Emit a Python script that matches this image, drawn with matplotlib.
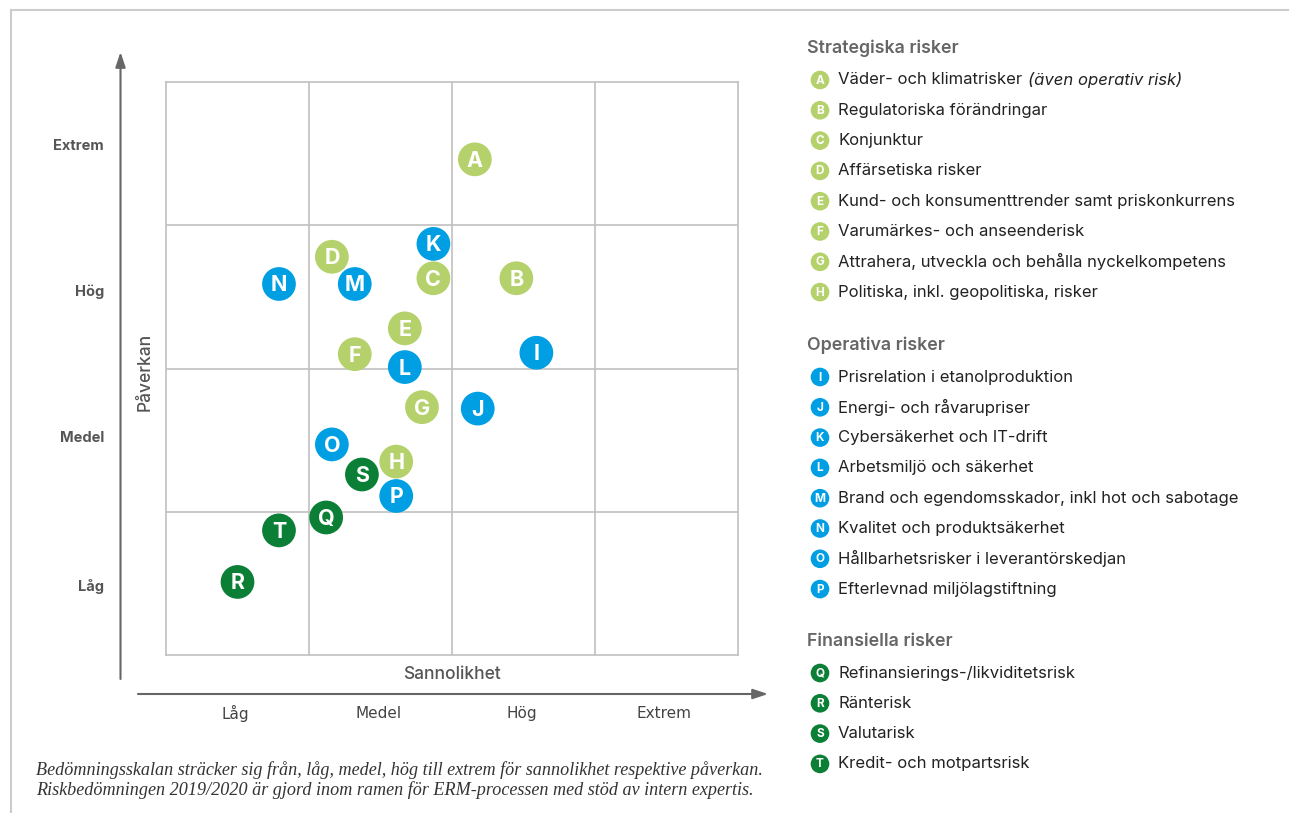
import matplotlib
matplotlib.use("Agg")
import matplotlib.pyplot as plt

# risk letters, position on the 0-4 grid (sannolikhet, påverkan)
letters = ["A", "B", "C", "D", "E", "F", "G", "H",
           "I", "J", "K", "L", "M", "N", "O", "P",
           "Q", "R", "S", "T"]
sannolikhet = [2.16, 2.45, 1.87, 1.16, 1.67, 1.32, 1.79, 1.61,
               2.59, 2.18, 1.87, 1.67, 1.32, 0.79, 1.16, 1.61,
               1.12, 0.50, 1.37, 0.79]
paverkan = [3.46, 2.63, 2.63, 2.78, 2.28, 2.10, 1.73, 1.35,
            2.11, 1.72, 2.87, 2.01, 2.59, 2.59, 1.47, 1.11,
            0.96, 0.51, 1.26, 0.87]
kategori = ["strat"] * 8 + ["oper"] * 8 + ["fin"] * 4

beskrivning = [
    "Väder- och klimatrisker",
    "Regulatoriska förändringar",
    "Konjunktur",
    "Affärsetiska risker",
    "Kund- och konsumenttrender samt priskonkurrens",
    "Varumärkes- och anseenderisk",
    "Attrahera, utveckla och behålla nyckelkompetens",
    "Politiska, inkl. geopolitiska, risker",
    "Prisrelation i etanolproduktion",
    "Energi- och råvarupriser",
    "Cybersäkerhet och IT-drift",
    "Arbetsmiljö och säkerhet",
    "Brand och egendomsskador, inkl hot och sabotage",
    "Kvalitet och produktsäkerhet",
    "Hållbarhetsrisker i leverantörskedjan",
    "Efterlevnad miljölagstiftning",
    "Refinansierings-/likviditetsrisk",
    "Ränterisk",
    "Valutarisk",
    "Kredit- och motpartsrisk",
]
rubriker = {"strat": "Strategiska risker", "oper": "Operativa risker",
            "fin": "Finansiella risker"}
nivaer = ["Låg", "Medel", "Hög", "Extrem"]
fotnot = ["Bedömningsskalan sträcker sig från, låg, medel, hög till extrem för sannolikhet respektive påverkan.",
          "Riskbedömningen 2019/2020 är gjord inom ramen för ERM-processen med stöd av intern expertis."]

farger = {"strat": "#b5d16b", "oper": "#009fe3", "fin": "#0a7f35"}

plt.rcParams['font.family'] = ['Inter', 'DejaVu Sans']

W, H = 1289, 813
fig = plt.figure(figsize=(W / 100, H / 100), dpi=100)

# overlay axes in pixel coordinates for frame, arrows and legend
bg = fig.add_axes([0, 0, 1, 1])
bg.set_xlim(0, W)
bg.set_ylim(H, 0)
bg.axis("off")

# thin frame top / left
bg.plot([11, W], [10, 10], color="#cccccc", lw=1.5)
bg.plot([11, 11], [10, H], color="#cccccc", lw=1.5)

# main grid axes
x0, x1, y0, y1 = 166, 738, 82, 655
ax = fig.add_axes([x0 / W, 1 - y1 / H, (x1 - x0) / W, (y1 - y0) / H])
ax.set_xlim(0, 4)
ax.set_ylim(0, 4)
ax.set_xticks([])
ax.set_yticks([])
for sp in ax.spines.values():
    sp.set_color("#c0c0c0")
    sp.set_linewidth(1.2)
for v in [1, 2, 3]:
    ax.axvline(v, color="#c0c0c0", lw=1.2, zorder=0)
    ax.axhline(v, color="#c0c0c0", lw=1.2, zorder=0)

for lt, sx, py, kat in zip(letters, sannolikhet, paverkan, kategori):
    ax.scatter(sx, py, s=590, color=farger[kat], edgecolors="none", zorder=3)
    ax.text(sx, py - 0.01, lt, color="white", fontsize=15.5, fontweight="bold",
            ha="center", va="center", zorder=4)

# axis arrows
bg.annotate("", xy=(120.5, 52), xytext=(120.5, 679),
            arrowprops=dict(arrowstyle="-|>,head_length=0.9,head_width=0.3",
                            color="#666666", lw=1.5, shrinkA=0, shrinkB=0))
bg.annotate("", xy=(768, 694), xytext=(138, 694),
            arrowprops=dict(arrowstyle="-|>,head_length=0.9,head_width=0.3",
                            color="#666666", lw=1.5, shrinkA=0, shrinkB=0))

# tick labels
y_lab_pos = [586, 438, 292, 146]
for lab, yp in zip(nivaer, y_lab_pos):
    bg.text(104, yp, lab, ha="right", va="center", fontsize=10.5,
            fontweight="bold", color="#555555")
for i, lab in enumerate(nivaer):
    xp = x0 + (i + 0.5) * (x1 - x0) / 4
    bg.text(xp - 2, 713, lab, ha="center", va="center", fontsize=11,
            color="#444444", family=['Liberation Sans Narrow', 'DejaVu Sans'])

bg.text(452, 674, "Sannolikhet", ha="center", va="center", fontsize=12.5,
        fontweight="medium", color="#555555")
bg.text(145, 372, "Påverkan", ha="center", va="center", fontsize=12.5,
        fontweight="medium", color="#555555", rotation=90)

for k, line in enumerate(fotnot):
    bg.text(36, 770 + k * 20, line, ha="left", va="center", fontsize=13.1,
            style="italic", color="#333333",
            family=['Liberation Serif', 'DejaVu Serif'])

# legend
rad = 30.3
pos = {"strat": 48, "oper": 345, "fin": 641}
for kat in ["strat", "oper", "fin"]:
    ytop = pos[kat]
    bg.text(807, ytop, rubriker[kat], ha="left", va="center", fontsize=12.8,
            fontweight="semibold", color="#666666")
    idx = [i for i, k in enumerate(kategori) if k == kat]
    for j, i in enumerate(idx):
        yy = ytop + 32 + j * rad
        bg.scatter(820, yy, s=180, color=farger[kat], edgecolors="none")
        bg.text(820, yy + 0.5, letters[i], ha="center", va="center",
                fontsize=8.5, fontweight="bold", color="white")
        t = bg.text(838, yy, beskrivning[i], ha="left", va="center",
                    fontsize=12, color="#222222")
        if letters[i] == "A":
            bg.annotate("(även operativ risk)", xy=(1, 0.5), xycoords=t,
                        xytext=(4, 0), textcoords="offset points",
                        ha="left", va="center", fontsize=12,
                        color="#222222", style="italic")

fig.savefig("out.png", dpi=100)
